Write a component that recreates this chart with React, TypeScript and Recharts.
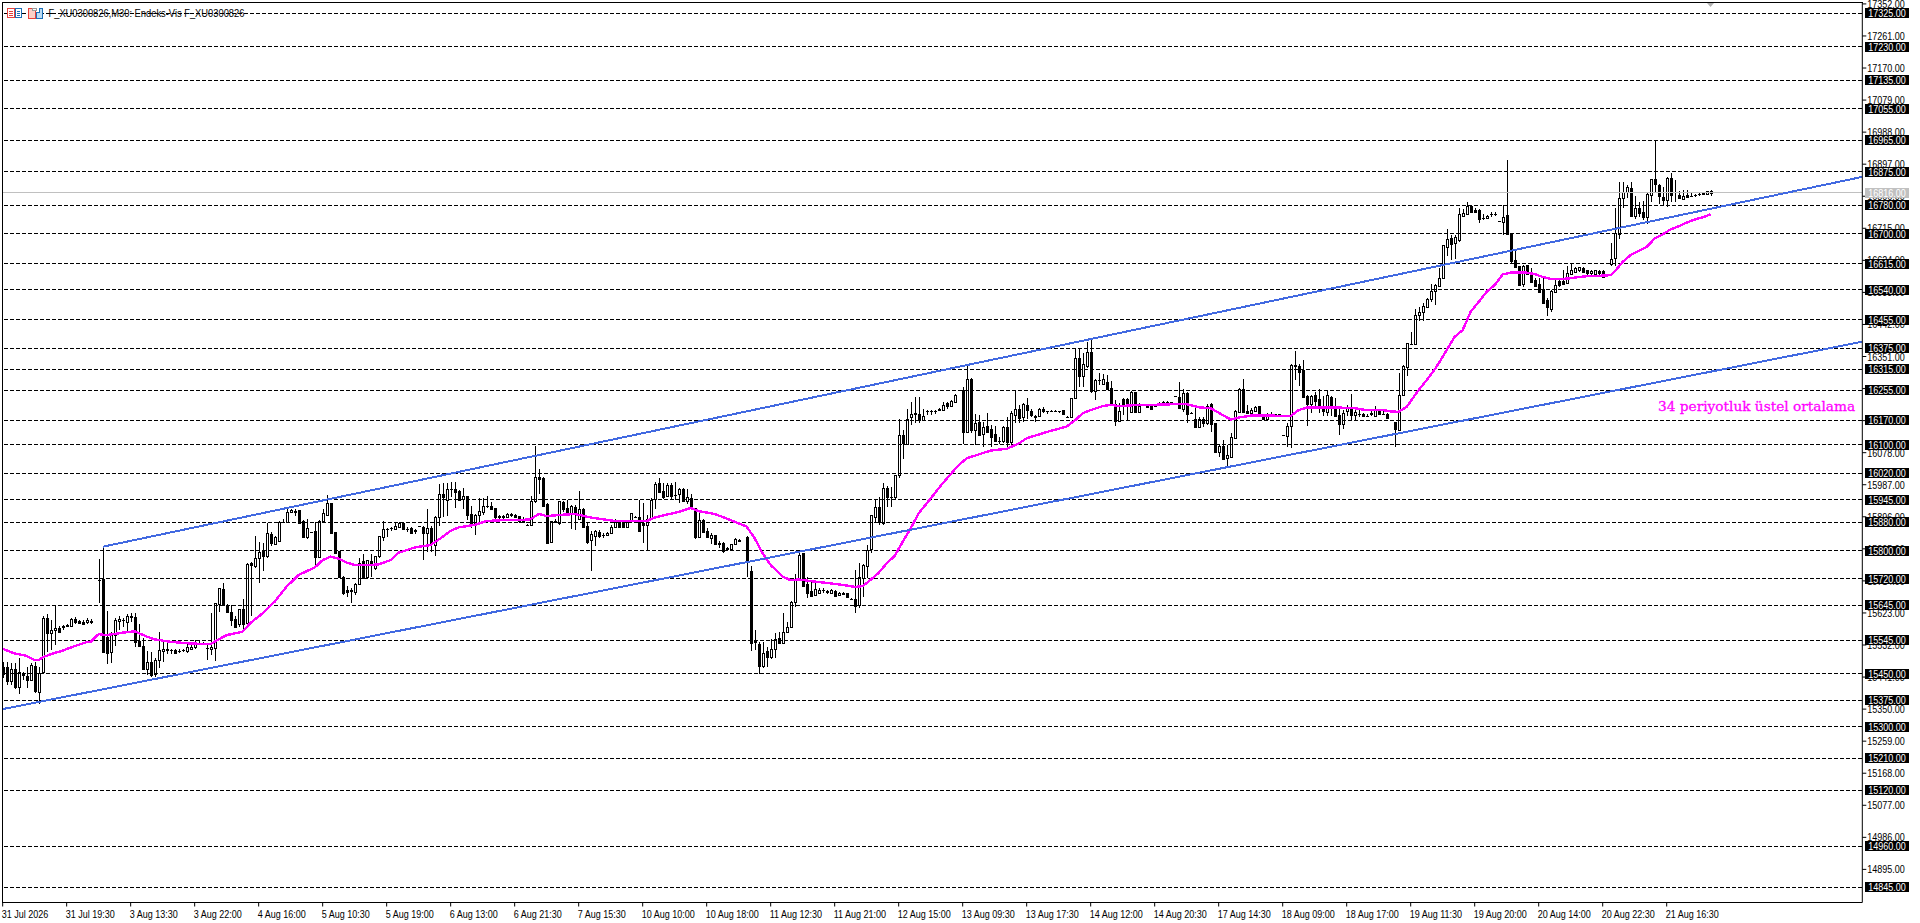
import React from 'react'
import { ComposedChart, Bar, Line, XAxis, YAxis, ReferenceLine } from 'recharts'

// [open, high, low, close] per M30 bar, null where the terminal shows no candle
type Ohlc = [number, number, number, number] | null

const barsLegOne: Ohlc[] = [
  [15470,15485,15437,15451],[15469,15485,15418,15431],[15431,15482,15418,15463],[15465,15482,15406,15412],[15414,15494,15393,15456],
  [15446,15456,15433,15451],[15444,15470,15409,15434],[15434,15482,15433,15475],[15472,15485,15395,15402],[15400,15470,15364,15453],
  [15456,15614,15451,15610],[15608,15619,15513,15567],[15567,15603,15518,15576],[15575,15643,15532,15579],[15581,15586,15567,15569],
  [15582,15590,15575,15587],[15586,15592,15582,15588],[15586,15610,15584,15605],[15605,15612,15592,15598],[15599,15603,15591,15595],
  [15598,15603,15590,15593],[15598,15610,15593,15602],[15597,15607,15592,15601],null,[15716,15776,15652,15716],
  [15718,15811,15513,15513],[15556,15628,15478,15508],[15513,15570,15482,15560],[15560,15610,15530,15603],[15601,15614,15575,15605],
  [15603,15608,15584,15604],[15598,15620,15573,15614],[15612,15622,15598,15614],[15611,15622,15527,15541],[15544,15593,15525,15529],
  [15529,15551,15461,15463],[15463,15515,15447,15483],[15485,15513,15442,15447],[15449,15494,15442,15489],[15489,15570,15466,15517],
  [15515,15546,15485,15520],[15518,15537,15506,15522],[15517,15522,15506,15517],[15518,15522,15506,15510],[15516,15520,15510,15515],
  [15518,15522,15512,15517],[15516,15537,15510,15527],[15520,15537,15518,15527],[15525,15546,15522,15537],[15535,15542,15532,15539],
  [15537,15541,15531,15534],[15524,15537,15489,15523],[15520,15622,15504,15525],[15524,15650,15487,15650],[15647,15693,15627,15693],
  [15691,15707,15643,15645],[15645,15648,15624,15627],[15627,15645,15586,15603],[15606,15614,15579,15584],[15592,15633,15584,15633],
  [15633,15664,15570,15592],[15595,15766,15579,15762],[15764,15769,15614,15759],[15756,15841,15752,15778],[15778,15825,15707,15797],
  [15798,15821,15743,15785],[15785,15877,15778,15849],[15847,15854,15813,15822],[15819,15841,15816,15838],[15828,15885,15828,15882],
  [15881,15891,15879,15882],[15882,15925,15882,15909],[15910,15917,15906,15915],[15913,15918,15898,15910],[15914,15914,15879,15879],
  [15885,15887,15835,15840],[15840,15889,15832,15863],[15853,15854,15850,15852],[15856,15882,15756,15783],[15783,15887,15783,15885],
  [15885,15917,15882,15906],[15901,15958,15901,15934],[15936,15936,15847,15851],[15853,15853,15792,15792],[15798,15798,15724,15724],
  [15726,15728,15673,15679],[15687,15699,15667,15683],[15687,15693,15652,15686],[15683,15709,15674,15705],[15705,15778,15702,15764],
  [15770,15790,15718,15721],[15724,15773,15721,15773],[15770,15790,15724,15759],[15752,15785,15745,15785],[15785,15841,15778,15841],
  [15840,15885,15828,15861],[15862,15864,15840,15862],[15864,15866,15856,15864],[15860,15879,15858,15870],[15868,15882,15866,15879],
]

const barsLegTwo: Ohlc[] = [
  [15877,15880,15858,15861],[15860,15866,15854,15860],[15864,15868,15849,15851],[15858,15862,15847,15855],[15870,15871,15869,15870],
  [15868,15870,15773,15851],[15849,15917,15797,15863],[15863,15870,15797,15822],[15816,15898,15785,15896],[15896,15988,15870,15962],
  [15960,15991,15896,15951],[15943,15993,15898,15974],[15976,15994,15951,15974],[15974,15994,15920,15967],[15969,15972,15943,15945],
  [15947,15979,15918,15954],[15955,15955,15887,15902],[15904,15926,15863,15873],[15873,15904,15844,15902],[15902,15948,15873,15913],
  [15910,15948,15901,15926],[15927,15956,15920,15928],[15928,15938,15917,15919],[15920,15920,15885,15896],[15899,15902,15889,15894],
  [15898,15902,15889,15896],[15896,15908,15894,15904],[15905,15908,15894,15900],[15901,15904,15894,15896],[15897,15898,15879,15883],
  [15884,15894,15877,15880],[15874,15875,15873,15874],[15874,15955,15873,15942],[15942,16097,15934,16008],[16008,16033,15962,16004],
  [16006,16010,15927,15927],[15931,15934,15822,15822],[15825,15884,15822,15884],[15881,15891,15877,15884],[15877,15940,15874,15940],
  [15938,15942,15910,15918],[15920,15943,15901,15904],[15904,15929,15860,15926],[15925,15929,15858,15904],[15891,15969,15891,15917],
  [15919,15920,15863,15868],[15870,15877,15820,15825],[15830,15856,15743,15846],[15841,15858,15813,15855],[15853,15858,15837,15841],
  [15843,15849,15837,15843],[15844,15853,15841,15850],[15851,15873,15849,15868],[15866,15889,15863,15880],[15880,15887,15866,15868],
  [15877,15882,15866,15868],[15868,15887,15866,15881],[15884,15908,15882,15908],[15896,15897,15895,15896],[15896,15945,15856,15856],
  [15879,15934,15822,15873],[15873,15901,15798,15890],[15889,15948,15889,15945],[15946,15995,15918,15989],[15991,16005,15964,15967],
  [15969,15991,15947,15953],[15955,15991,15953,15985],[15985,15991,15945,15955],[15958,15995,15945,15957],[15960,15977,15934,15975],
  [15974,15977,15938,15941],[15942,15974,15932,15951],[15948,15962,15915,15920],[15921,15921,15832,15839],[15839,15910,15837,15887],
  [15887,15889,15849,15853],[15855,15863,15837,15839],[15837,15849,15820,15843],[15843,15843,15818,15819],[15821,15826,15806,15819],
  [15822,15824,15794,15800],[15806,15809,15800,15804],[15805,15820,15802,15818],[15819,15836,15816,15832],[15829,15834,15825,15828],
  null,[15839,15842,15726,15767],[15742,15756,15516,15537],[15542,15574,15518,15541],[15535,15541,15449,15473],
  [15473,15541,15466,15508],[15515,15525,15470,15499],[15499,15548,15493,15520],[15522,15567,15494,15550],[15551,15570,15535,15537],
  [15538,15622,15534,15570],[15570,15598,15567,15584],[15584,15657,15581,15653],[15653,15733,15641,15718],[15721,15797,15716,15787],
]

const barsLegThree: Ohlc[] = [
  [15792,15794,15700,15700],[15704,15726,15666,15679],[15685,15716,15669,15671],[15674,15707,15671,15692],[15680,15695,15677,15688],
  [15688,15695,15679,15689],[15685,15688,15676,15683],[15680,15692,15679,15688],[15685,15688,15671,15672],[15673,15682,15671,15680],
  [15679,15683,15674,15678],[15679,15681,15667,15669],[15664,15665,15663,15664],[15664,15745,15622,15644],[15645,15764,15637,15726],
  [15723,15762,15669,15759],[15757,15816,15723,15803],[15805,15901,15792,15901],[15896,15945,15877,15923],[15923,15951,15873,15880],
  [15879,15991,15873,15979],[15979,15983,15923,15953],[15953,15981,15925,15953],[15953,16016,15944,16014],[16014,16175,16005,16127],
  [16127,16142,16061,16106],[16102,16202,16102,16175],[16180,16223,16156,16189],[16191,16237,16163,16188],[16189,16237,16161,16171],
  [16170,16201,16169,16182],[16197,16199,16185,16197],[16197,16199,16185,16197],[16197,16199,16188,16197],[16200,16204,16196,16202],
  [16199,16223,16197,16213],[16218,16223,16201,16210],[16210,16227,16208,16224],[16223,16244,16221,16242],null,
  [16256,16265,16102,16137],[16137,16324,16137,16286],[16286,16289,16135,16142],[16142,16188,16100,16163],[16165,16185,16125,16128],
  [16131,16166,16093,16150],[16154,16191,16133,16137],[16144,16156,16095,16123],[16130,16154,16108,16110],[16111,16123,16104,16111],
  [16110,16154,16106,16150],[16150,16180,16095,16109],[16109,16196,16095,16190],[16186,16256,16161,16201],[16202,16213,16161,16177],
  [16178,16218,16166,16215],[16213,16232,16175,16199],[16197,16201,16178,16184],[16182,16185,16166,16180],[16182,16204,16180,16201],
  [16201,16207,16191,16197],[16195,16197,16189,16195],[16197,16199,16193,16197],[16196,16198,16193,16196],[16195,16197,16192,16195],
  [16198,16198,16189,16189],[16180,16181,16179,16180],[16178,16232,16176,16232],[16232,16371,16232,16348],[16348,16374,16265,16295],
  [16295,16360,16265,16329],[16325,16393,16317,16363],[16363,16397,16246,16254],[16254,16286,16227,16284],[16284,16303,16270,16284],
  [16272,16301,16270,16287],[16278,16298,16256,16258],[16262,16282,16210,16213],[16215,16227,16154,16168],[16169,16218,16169,16197],
  [16229,16234,16185,16210],[16229,16232,16171,16210],[16194,16254,16191,16249],[16251,16251,16191,16194],[16194,16218,16191,16211],
  [16213,16214,16212,16213],[16211,16216,16204,16207],[16211,16216,16201,16202],[16211,16212,16210,16211],[16213,16223,16210,16220],
  [16222,16225,16215,16217],[16222,16224,16217,16218],[16221,16223,16218,16221],[16239,16240,16238,16239],[16237,16279,16201,16204],
  [16203,16260,16194,16248],[16248,16251,16161,16189],[16192,16194,16189,16192],[16175,16204,16147,16150],[16152,16180,16147,16175],
]

const barsLegFour: Ohlc[] = [
  [16175,16178,16150,16161],[16163,16216,16156,16210],[16216,16220,16137,16159],[16161,16163,16081,16081],[16081,16104,16066,16097],
  [16097,16114,16057,16059],[16062,16100,16040,16071],[16065,16133,16062,16123],[16121,16199,16116,16197],[16194,16263,16191,16260],
  [16260,16286,16191,16194],[16195,16213,16189,16191],[16192,16204,16188,16199],[16197,16210,16195,16208],[16210,16210,16182,16185],
  [16185,16189,16173,16175],[16175,16191,16173,16182],[16186,16193,16178,16188],[16187,16189,16182,16187],[16187,16189,16180,16187],
  [16127,16128,16126,16127],[16125,16161,16095,16155],[16154,16329,16090,16327],[16327,16366,16284,16323],[16324,16331,16267,16308],
  [16312,16341,16235,16237],[16239,16241,16153,16216],[16216,16241,16191,16239],[16241,16251,16204,16224],[16229,16258,16191,16208],
  [16210,16239,16182,16196],[16194,16256,16182,16241],[16237,16239,16182,16208],[16206,16232,16180,16182],[16184,16206,16128,16159],
  [16159,16199,16144,16192],[16195,16212,16182,16206],[16201,16244,16172,16185],[16185,16201,16172,16194],[16187,16199,16178,16187],
  [16189,16191,16178,16183],[16183,16188,16180,16183],[16189,16201,16182,16190],[16183,16210,16182,16199],[16197,16201,16188,16189],
  [16189,16195,16184,16189],[16189,16191,16175,16176],null,[16164,16166,16095,16145],[16142,16305,16140,16241],
  [16241,16327,16239,16324],[16320,16390,16295,16388],[16386,16421,16383,16386],[16386,16487,16383,16470],[16470,16492,16452,16478],
  [16478,16504,16452,16494],[16492,16518,16489,16514],[16514,16558,16506,16536],[16536,16558,16497,16553],[16551,16601,16549,16573],
  [16573,16667,16570,16667],[16662,16713,16636,16686],[16688,16696,16625,16670],[16672,16696,16629,16691],[16681,16774,16677,16755],
  [16750,16771,16746,16757],[16755,16789,16752,16778],[16778,16781,16759,16762],[16768,16774,16759,16762],[16768,16770,16729,16742],
  [16744,16755,16738,16744],[16743,16752,16741,16750],[16755,16762,16748,16756],[16755,16760,16750,16756],[16735,16736,16734,16735],
  [16733,16780,16695,16748],[16752,16909,16696,16698],[16700,16702,16615,16623],[16625,16653,16601,16606],[16608,16608,16554,16554],
  [16558,16612,16549,16609],[16610,16612,16582,16585],[16587,16603,16563,16563],[16568,16573,16549,16551],[16556,16573,16533,16535],
  [16544,16573,16500,16502],[16511,16516,16466,16492],[16486,16540,16478,16538],[16535,16568,16533,16554],[16566,16570,16549,16554],
  [16565,16596,16554,16556],[16560,16608,16558,16587],[16585,16615,16584,16598],[16592,16604,16587,16601],[16596,16606,16592,16604],
  [16602,16606,16587,16592],[16596,16598,16582,16587],[16587,16598,16582,16594],[16586,16598,16582,16596],[16595,16598,16579,16589],
  [16593,16596,16573,16577],null,[16613,16672,16608,16627],[16632,16774,16608,16702],[16698,16847,16686,16800],
  [16800,16847,16774,16819],[16817,16838,16800,16831],[16828,16847,16746,16750],[16750,16806,16740,16774],[16774,16790,16746,16759],
  [16761,16793,16738,16746],[16748,16814,16727,16812],[16809,16854,16790,16854],[16854,16965,16817,16840],[16839,16842,16784,16806],
  [16804,16831,16778,16795],[16795,16861,16776,16859],[16859,16873,16790,16810],[16817,16852,16790,16817],[16810,16821,16797,16800],
  [16799,16825,16797,16806],[16809,16823,16803,16804],[16808,16814,16803,16808],[16809,16812,16804,16810],[16813,16816,16808,16813],
  [16813,16817,16809,16814],[16811,16821,16810,16820],[16820,16823,16808,16814],
]

// 34 period EMA: [bar index, price]
const emaReadings: [number, number][] = [
  [0,15521],[3,15508],[6,15501],[8,15489],[9,15489],[10,15497],[12,15506],[15,15516],[18,15529],[21,15540],[22,15541],[24,15563],[26,15560],[30,15567],[33,15571],
  [36,15556],[38,15548],[42,15541],[46,15537],[50,15535],[52,15535],[54,15548],[56,15560],[60,15570],[62,15595],[65,15622],[68,15655],[71,15698],[74,15731],[78,15752],
  [80,15773],[82,15783],[84,15777],[86,15766],[88,15759],[92,15759],[94,15761],[97,15773],[99,15794],[103,15809],[107,15816],[110,15839],[112,15856],[114,15866],[118,15873],
  [121,15884],[126,15887],[130,15887],[132,15889],[134,15904],[136,15898],[139,15901],[143,15904],[147,15894],[150,15889],[153,15884],[157,15884],[161,15884],[163,15894],[166,15902],
  [169,15910],[172,15921],[174,15912],[178,15904],[181,15891],[183,15882],[186,15868],[188,15835],[190,15792],[192,15759],[195,15726],[197,15716],[199,15718],[203,15712],[207,15707],
  [211,15701],[213,15697],[215,15699],[217,15717],[219,15737],[221,15764],[223,15785],[225,15825],[227,15863],[229,15906],[232,15948],[235,15991],[237,16017],[239,16043],[241,16062],
  [244,16073],[247,16084],[251,16089],[254,16104],[256,16119],[260,16133],[262,16140],[266,16152],[268,16169],[270,16190],[272,16199],[275,16210],[277,16214],[279,16210],[283,16213],
  [288,16214],[294,16216],[296,16216],[299,16207],[302,16204],[305,16185],[307,16172],[309,16178],[312,16183],[316,16184],[320,16182],[322,16182],[324,16199],[326,16206],[330,16206],
  [334,16206],[338,16204],[341,16199],[345,16199],[347,16195],[349,16194],[351,16208],[354,16256],[356,16284],[358,16314],[360,16350],[362,16388],[363,16407],[365,16426],[367,16478],
  [369,16506],[371,16535],[373,16554],[375,16584],[377,16589],[379,16589],[381,16589],[383,16585],[385,16577],[387,16571],[391,16572],[393,16575],[396,16579],[399,16580],[402,16582],
  [403,16592],[405,16620],[407,16639],[409,16651],[411,16662],[413,16686],[415,16698],[417,16712],[419,16721],[421,16731],[423,16740],[425,16746],[427,16755],
]

const gridLevels = [17325,17230,17135,17055,16965,16875,16780,16700,16615,16540,16455,16375,16315,16255,16170,16100,16020,15945,15880,15800,15720,15645,15545,15450,15375,15300,15210,15120,14960,14845]
const priceTicks = [17352,17261,17170,17079,16988,16897,16806,16715,16624,16533,16442,16351,16260,16169,16078,15987,15896,15805,15714,15623,15532,15441,15350,15259,15168,15077,14986,14895]
const timeLabels = ['31 Jul 2026','31 Jul 19:30','3 Aug 13:30','3 Aug 22:00','4 Aug 16:00','5 Aug 10:30','5 Aug 19:00','6 Aug 13:00','6 Aug 21:30','7 Aug 15:30','10 Aug 10:00','10 Aug 18:00','11 Aug 12:30','11 Aug 21:00','12 Aug 15:00','13 Aug 09:30','13 Aug 17:30','14 Aug 12:00','14 Aug 20:30','17 Aug 14:30','18 Aug 09:00','18 Aug 17:00','19 Aug 11:30','19 Aug 20:00','20 Aug 14:00','20 Aug 22:30','21 Aug 16:30']
const barsPerLabel = 16
const timeTicks = timeLabels.map((_, i) => i * barsPerLabel)

const lastPrice = 16816
const upperChannel = [{ x: 25, y: 15811 }, { x: 464.9, y: 16861 }]
const lowerChannel = [{ x: -0.04, y: 15350 }, { x: 464.9, y: 16393 }]
const xDomain = [-0.04, 464.9]
const yDomain = [14801, 17356]

const allBars = [...barsLegOne, ...barsLegTwo, ...barsLegThree, ...barsLegFour]
const emaByBar = new Map(emaReadings)
const rows = allBars.map((b, i) => ({
  idx: i,
  range: b ? [b[2], b[1]] : undefined,
  open: b ? b[0] : undefined,
  high: b ? b[1] : undefined,
  low: b ? b[2] : undefined,
  close: b ? b[3] : undefined,
  ema: emaByBar.get(i),
}))

// Liberation Sans squeezed to the width of the terminal's small UI font
function NarrowText({ x, y, fill = '#000', squeeze = 0.82, children }: any) {
  return (
    <text transform={`translate(${x} ${y}) scale(${squeeze} 1)`} fontFamily='"Liberation Sans", sans-serif' fontSize={11} fill={fill}>
      {children}
    </text>
  )
}

function Candle(props: any) {
  const { x, y, width, height, payload } = props
  if (!payload || payload.open === undefined) return null
  const { open, high, low, close } = payload
  const perPoint = high > low ? height / (high - low) : 0
  const px = Math.floor(x + width / 2) + 0.5
  const bodyTop = Math.round(y + (high - Math.max(open, close)) * perPoint)
  const bodyBottom = Math.round(y + (high - Math.min(open, close)) * perPoint)
  const rising = close >= open
  return (
    <g shapeRendering="crispEdges">
      <line x1={px} x2={px} y1={y} y2={y + height} stroke="#000" />
      {bodyBottom - bodyTop < 1 ? (
        <line x1={px - 1.5} x2={px + 1.5} y1={bodyTop + 0.5} y2={bodyTop + 0.5} stroke="#000" />
      ) : (
        <rect x={px - 1} y={bodyTop + 0.5} width={2} height={bodyBottom - bodyTop} fill={rising ? '#fff' : '#000'} stroke="#000" />
      )}
    </g>
  )
}

function PriceTick({ x, y, payload }: any) {
  return <NarrowText x={x - 1} y={y + 4}>{payload.value.toFixed(2)}</NarrowText>
}

function TimeTick({ x, y, payload }: any) {
  return <NarrowText x={x - 1} y={y + 9}>{timeLabels[payload.value / barsPerLabel]}</NarrowText>
}

function levelTag(value: number, bg: string) {
  return (props: any) => {
    const { x, y, width } = props.viewBox
    const left = x + width + 3
    return (
      <g>
        <rect x={left} y={Math.round(y) - 5} width={44} height={10} fill={bg} shapeRendering="crispEdges" />
        <NarrowText x={left + 3} y={y + 4} fill="#fff">{value.toFixed(2)}</NarrowText>
      </g>
    )
  }
}

export default function App() {
  return (
    <div style={{ position: 'absolute', left: 0, top: 0, width: 1920, height: 923, background: '#fff', overflow: 'hidden' }}>
      <ComposedChart
        width={1920}
        height={923}
        data={rows}
        margin={{ top: 2.5, right: 0, bottom: 0, left: 2.5 }}
      >
        <XAxis
          dataKey="idx"
          type="number"
          domain={xDomain}
          allowDataOverflow
          ticks={timeTicks}
          interval={0}
          height={20.5}
          tickSize={4}
          tick={<TimeTick />}
          stroke="#000"
        />
        <YAxis
          orientation="right"
          type="number"
          domain={yDomain}
          allowDataOverflow
          ticks={priceTicks}
          interval={0}
          width={57.7}
          tickSize={4}
          tick={<PriceTick />}
          stroke="#000"
        />
        {gridLevels.map((v) => (
          <ReferenceLine key={v} y={v} stroke="#000" strokeDasharray="4 2" shapeRendering="crispEdges" />
        ))}
        <ReferenceLine y={lastPrice} stroke="#c0c0c0" shapeRendering="crispEdges" />
        <Bar dataKey="range" barSize={3} shape={<Candle />} isAnimationActive={false} />
        <Line dataKey="ema" stroke="#ff00ff" strokeWidth={2.4} dot={false} connectNulls isAnimationActive={false} shapeRendering="crispEdges" />
        <ReferenceLine segment={upperChannel} stroke="#4169e1" strokeWidth={2} shapeRendering="crispEdges" />
        <ReferenceLine segment={lowerChannel} stroke="#4169e1" strokeWidth={2} shapeRendering="crispEdges" />
      </ComposedChart>

      {/* second chart on the same scales: the price tags have to cover the axis ticks */}
      <div style={{ position: 'absolute', left: 0, top: 0 }}>
        <ComposedChart
          width={1920}
          height={923}
          data={rows}
          margin={{ top: 2.5, right: 57.7, bottom: 20.5, left: 2.5 }}
        >
          <XAxis dataKey="idx" type="number" domain={xDomain} allowDataOverflow hide />
          <YAxis type="number" domain={yDomain} allowDataOverflow hide />
          {gridLevels.map((v) => (
            <ReferenceLine key={v} y={v} stroke="none" label={{ content: levelTag(v, '#000') }} />
          ))}
          <ReferenceLine y={lastPrice} stroke="none" label={{ content: levelTag(lastPrice, '#c0c0c0') }} />
        </ComposedChart>
      </div>

      {/* plot frame, left and top edges */}
      <div style={{ position: 'absolute', left: 2, top: 2, width: 1860, height: 900, borderLeft: '1px solid #000', borderTop: '1px solid #000' }} />

      {/* header icons and symbol text */}
      <svg style={{ position: 'absolute', left: 0, top: 0 }} width={1920} height={923} pointerEvents="none">
        <g shapeRendering="crispEdges" fill="none">
          <rect x={7.5} y={8.5} width={7} height={9} stroke="#e8403a" fill="#fff" />
          <path d="M9 11.5h4M9 13.5h4M9 15.5h4" stroke="#e8403a" />
          <rect x={15.5} y={8.5} width={6} height={9} stroke="#1c6fb8" fill="#fff" />
          <path d="M17 11.5h3M17 13.5h3M17 15.5h3" stroke="#1c6fb8" />
          <path d="M28.5 8.5h4v2h3v8h-7z" stroke="#e8403a" fill="#fbd0c8" />
          <path d="M36.5 12.5h3v-4h3v10h-6z" stroke="#1c6fb8" fill="#bcdcf4" />
          <rect x={32.5} y={8.5} width={4} height={2} stroke="#999" fill="#fff" />
        </g>
        <NarrowText x={48.5} y={17} squeeze={0.85}>F_XU0300826,M30:  Endeks-Vis F_XU0300826</NarrowText>
        <path d="M1707 3h7l-3.5 4z" fill="#b0b0b0" />
        <text x={1658} y={411} fontFamily='"DejaVu Serif", serif' fontSize={13.7} fill="#ff00ff" stroke="#ff00ff" strokeWidth={0.3}>
          34 periyotluk üstel ortalama
        </text>
      </svg>
    </div>
  )
}
